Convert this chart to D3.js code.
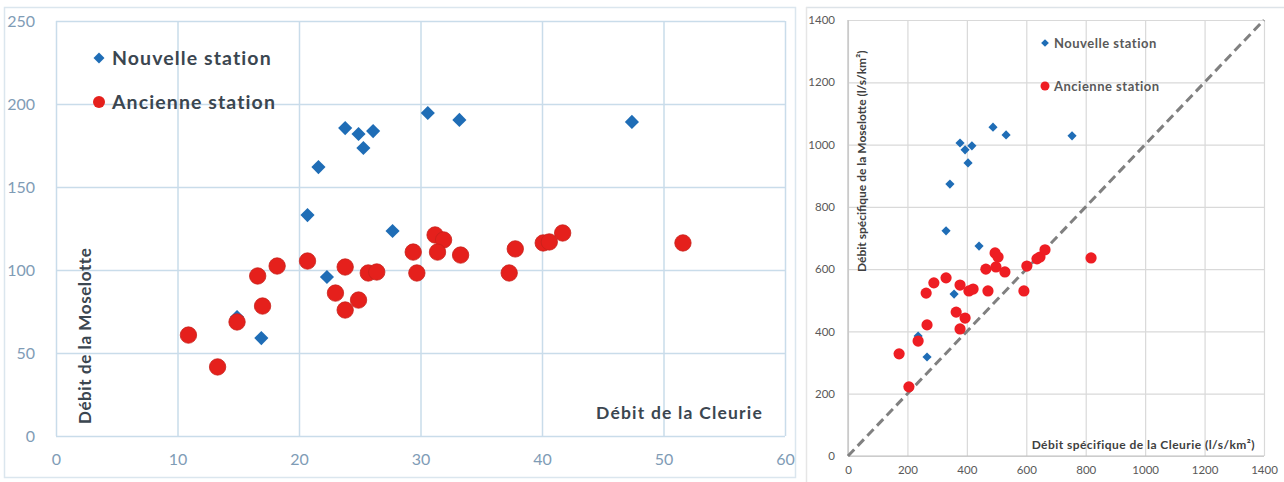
<!DOCTYPE html>
<html><head><meta charset="utf-8">
<script src="https://cdn.jsdelivr.net/npm/d3@7"></script>
<style>
html,body{margin:0;padding:0;background:#fff;}
svg{display:block;}
.domain{display:none;}
</style></head>
<body>
<svg id="chart" width="1284" height="482"></svg>
<script>
// ---------- Left chart data (Débit, l/s) ----------
const leftXTicks = [0, 10, 20, 30, 40, 50, 60];
const leftYTicks = [0, 50, 100, 150, 200, 250];
const leftNouvelleX = [14.9, 16.9, 20.7, 21.6, 22.3, 23.8, 24.9, 25.3, 26.1, 27.7, 30.6, 33.2, 47.4];
const leftNouvelleY = [71.7, 59.0, 133.1, 162.0, 95.8, 185.5, 181.9, 173.5, 183.7, 123.5, 194.6, 190.4, 189.2];
const leftAncienneX = [10.9, 13.3, 14.9, 16.6, 17.0, 18.2, 20.7, 23.0, 23.8, 23.8, 24.9, 25.7, 26.4, 29.4, 29.7, 31.2, 31.9, 31.4, 33.3, 37.3, 37.8, 40.1, 40.6, 41.7, 51.6];
const leftAncienneY = [60.8, 41.6, 68.7, 96.4, 78.3, 102.4, 105.4, 86.1, 101.8, 75.9, 81.9, 98.2, 98.8, 110.8, 98.2, 121.1, 118.1, 110.8, 109.0, 98.2, 112.7, 116.3, 116.9, 122.3, 116.3];

// ---------- Right chart data (Débit spécifique, l/s/km²) ----------
const rightXTicks = [0, 200, 400, 600, 800, 1000, 1200, 1400];
const rightYTicks = [0, 200, 400, 600, 800, 1000, 1200, 1400];
const rightNouvelleX = [488, 532, 754, 377, 394, 417, 404, 343, 330, 441, 357, 236, 266];
const rightNouvelleY = [1056, 1031, 1028, 1005, 983, 996, 941, 873, 723, 674, 520, 385, 318];
const rightAncienneX = [172, 205, 236, 263, 266, 289, 330, 364, 377, 377, 394, 407, 421, 464, 471, 495, 505, 498, 528, 592, 602, 636, 646, 663, 818];
const rightAncienneY = [328, 222, 369, 523, 421, 556, 572, 462, 549, 408, 443, 530, 536, 600, 530, 652, 639, 607, 591, 530, 610, 633, 639, 662, 636];
const seriesNames = ["Nouvelle station", "Ancienne station"];

const svg = d3.select("#chart");
const BLUE = "#1f6db6", RED = "#e5201c", RED2 = "#ee1d23";

// ---------- LEFT CHART ----------
{
  const g = svg.append("g");
  g.append("rect").attr("x", 4.5).attr("y", 7.5).attr("width", 791).attr("height", 470)
    .attr("fill", "#fff").attr("stroke", "#dbe6ee").attr("stroke-width", 1.5);
  const x = d3.scaleLinear().domain([0, 60]).range([56, 785]);
  const y = d3.scaleLinear().domain([0, 250]).range([436, 21]);
  const grid = "#c9dcea";
  g.append("g").attr("transform", "translate(0,436)")
    .call(d3.axisBottom(x).tickValues(leftXTicks).tickSize(-415).tickFormat(""))
    .call(s => s.selectAll("line").attr("stroke", grid).attr("stroke-width", 1.5));
  g.append("g").attr("transform", "translate(56,0)")
    .call(d3.axisLeft(y).tickValues(leftYTicks).tickSize(-729).tickFormat(""))
    .call(s => s.selectAll("line").attr("stroke", grid).attr("stroke-width", 1.5));
  g.append("g").attr("transform", "translate(0,436)")
    .call(d3.axisBottom(x).tickValues(leftXTicks).tickSize(0).tickPadding(18).tickFormat(d3.format("d")))
    .call(s => s.selectAll("text").attr("fill", "#7f9cb6").attr("font-family", "Lato").attr("font-size", 16));
  g.append("g").attr("transform", "translate(56,0)")
    .call(d3.axisLeft(y).tickValues(leftYTicks).tickSize(0).tickPadding(21).tickFormat(d3.format("d")))
    .call(s => s.selectAll("text").attr("fill", "#7f9cb6").attr("font-family", "Lato").attr("font-size", 16));
  g.append("text").attr("x", 763).attr("y", 419).attr("text-anchor", "end")
    .attr("font-family", "Lato").attr("font-weight", "bold").attr("font-size", 17.5)
    .attr("letter-spacing", 1.2).attr("fill", "#3b4650").text("Débit de la Cleurie");
  g.append("text").attr("transform", "translate(91,424) rotate(-90)")
    .attr("font-family", "Lato").attr("font-weight", "bold").attr("font-size", 17)
    .attr("letter-spacing", 0.6).attr("fill", "#3b4650").text("Débit de la Moselotte");
  const diamond = d3.symbol(d3.symbolSquare, 100);
  g.append("g").selectAll("path").data(leftNouvelleX.map((v, i) => [v, leftNouvelleY[i]]))
    .join("path").attr("d", diamond)
    .attr("transform", d => `translate(${x(d[0])},${y(d[1])}) rotate(45)`).attr("fill", BLUE);
  g.append("g").selectAll("circle").data(leftAncienneX.map((v, i) => [v, leftAncienneY[i]]))
    .join("circle").attr("cx", d => x(d[0])).attr("cy", d => y(d[1])).attr("r", 8.2)
    .attr("fill", RED).attr("stroke", "#c8221c").attr("stroke-width", 0.8);
  const lg = g.append("g");
  lg.append("path").attr("d", d3.symbol(d3.symbolSquare, 60))
    .attr("transform", "translate(99,58) rotate(45)").attr("fill", BLUE);
  lg.append("circle").attr("cx", 99).attr("cy", 102).attr("r", 6).attr("fill", RED);
  lg.selectAll("text.lgt").data(seriesNames).join("text").attr("class", "lgt")
    .attr("x", 112).attr("y", (d, i) => 58 + i * 44).attr("dy", "0.35em")
    .attr("font-family", "Lato").attr("font-weight", "bold").attr("font-size", 19.5)
    .attr("letter-spacing", 1.1).attr("fill", "#3b4650").text(d => d);
}

// ---------- RIGHT CHART ----------
{
  const g = svg.append("g");
  g.append("line").attr("x1", 806).attr("x2", 1284).attr("y1", 7.5).attr("y2", 7.5)
    .attr("stroke", "#dde3e8").attr("stroke-width", 1.5);
  g.append("line").attr("x1", 806.5).attr("x2", 806.5).attr("y1", 7).attr("y2", 482)
    .attr("stroke", "#e6e6e6").attr("stroke-width", 1.5);
  const x = d3.scaleLinear().domain([0, 1400]).range([848, 1264]);
  const y = d3.scaleLinear().domain([0, 1400]).range([456, 20]);
  const grid = "#d9d9d9";
  g.append("g").attr("transform", "translate(0,456)")
    .call(d3.axisBottom(x).tickValues(rightXTicks).tickSize(-436).tickFormat(""))
    .call(s => s.selectAll("line").attr("stroke", grid).attr("stroke-width", 1.2));
  g.append("g").attr("transform", "translate(848,0)")
    .call(d3.axisLeft(y).tickValues(rightYTicks).tickSize(-416).tickFormat(""))
    .call(s => s.selectAll("line").attr("stroke", grid).attr("stroke-width", 1.2));
  g.append("line").attr("x1", 848).attr("x2", 1264).attr("y1", 456).attr("y2", 456).attr("stroke", "#bfbfbf").attr("stroke-width", 1.2);
  g.append("line").attr("x1", 848).attr("x2", 848).attr("y1", 20).attr("y2", 456).attr("stroke", "#bfbfbf").attr("stroke-width", 1.2);
  g.append("g").attr("transform", "translate(0,456)")
    .call(d3.axisBottom(x).tickValues(rightXTicks).tickSize(0).tickPadding(10).tickFormat(d3.format("d")))
    .call(s => s.selectAll("text").attr("fill", "#595959").attr("font-family", "Lato").attr("font-size", 11.5));
  g.append("g").attr("transform", "translate(848,0)")
    .call(d3.axisLeft(y).tickValues(rightYTicks).tickSize(0).tickPadding(13).tickFormat(d3.format("d")))
    .call(s => s.selectAll("text").attr("fill", "#595959").attr("font-family", "Lato").attr("font-size", 11.5));
  g.append("line").attr("x1", x(0)).attr("y1", y(0)).attr("x2", x(1400)).attr("y2", y(1400))
    .attr("stroke", "#808080").attr("stroke-width", 3).attr("stroke-dasharray", "9,5");
  g.append("text").attr("x", 1255).attr("y", 445).attr("dy", "0.35em").attr("text-anchor", "end")
    .attr("font-family", "Lato").attr("font-weight", "bold").attr("font-size", 12)
    .attr("letter-spacing", 0.45).attr("fill", "#404040").text("Débit spécifique  de la Cleurie (l/s/km²)");
  g.append("text").attr("transform", "translate(862,272) rotate(-90)").attr("dy", "0.35em")
    .attr("font-family", "Lato").attr("font-weight", "bold").attr("font-size", 12)
    .attr("fill", "#404040").text("Débit spécifique de la Moselotte (l/s/km²)");
  const diamond = d3.symbol(d3.symbolSquare, 42);
  g.append("g").selectAll("path").data(rightNouvelleX.map((v, i) => [v, rightNouvelleY[i]]))
    .join("path").attr("d", diamond)
    .attr("transform", d => `translate(${x(d[0])},${y(d[1])}) rotate(45)`).attr("fill", BLUE);
  g.append("g").selectAll("circle").data(rightAncienneX.map((v, i) => [v, rightAncienneY[i]]))
    .join("circle").attr("cx", d => x(d[0])).attr("cy", d => y(d[1])).attr("r", 5.6).attr("fill", RED2);
  g.append("path").attr("d", d3.symbol(d3.symbolSquare, 30))
    .attr("transform", "translate(1045,43) rotate(45)").attr("fill", BLUE);
  g.append("circle").attr("cx", 1045).attr("cy", 86).attr("r", 4.5).attr("fill", RED2);
  g.selectAll("text.lgt").data(seriesNames).join("text").attr("class", "lgt")
    .attr("x", 1054).attr("y", (d, i) => 43 + i * 43).attr("dy", "0.35em")
    .attr("font-family", "Lato").attr("font-weight", "bold").attr("font-size", 13)
    .attr("letter-spacing", 0.5).attr("fill", "#595959").text(d => d);
}
</script>
</body></html>
